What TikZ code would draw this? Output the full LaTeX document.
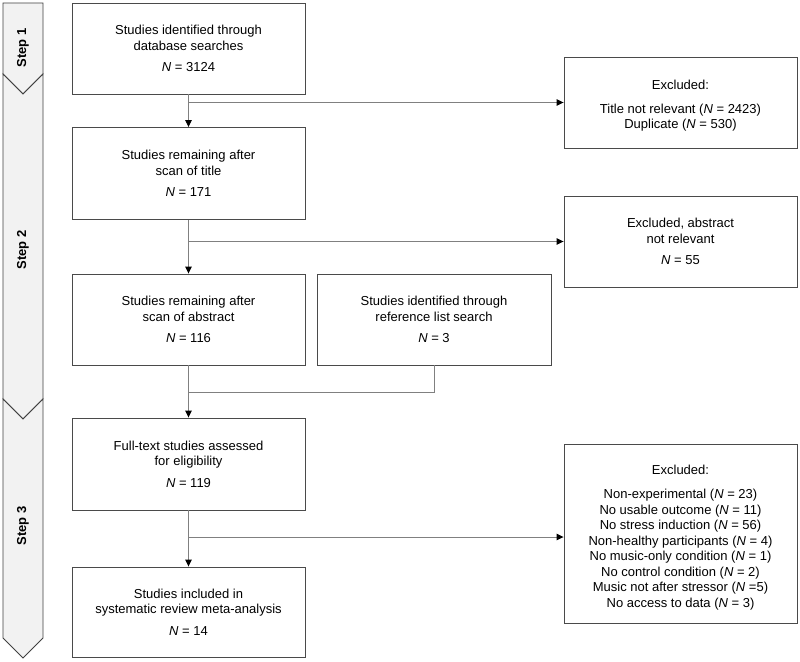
\documentclass[tikz,border=0pt]{standalone}
\usepackage{fontspec}
\setmainfont{Liberation Sans}
\usetikzlibrary{arrows.meta}
\definecolor{boxc}{HTML}{4A4A4A}
\definecolor{linec}{HTML}{808080}
\definecolor{stepfill}{HTML}{F2F2F2}
\definecolor{stepdraw}{HTML}{404040}
\begin{document}
\begin{tikzpicture}[x=1pt,y=-1pt,
  box/.style={draw=boxc, line width=0.9pt, minimum width=233pt, inner sep=0pt, align=center,
    font=\fontsize{13}{15.5}\selectfont},
  boxtext/.style={inner sep=0pt, align=center, font=\fontsize{13}{15.5}\selectfont},
  stepshape/.style={fill=stepfill, draw=stepdraw, line width=0.9pt, line join=miter},
  steplabel/.style={rotate=90, font=\fontsize{13}{15.5}\selectfont\bfseries},
  conn/.style={draw=linec, line width=0.9pt},
  arr/.style={conn, -{Triangle[length=7pt,width=6.5pt,color=black]}}
]
\useasboundingbox (0,0) rectangle (800,661);
% step chevrons
\draw[stepshape] (3,3) -- (43,3) -- (43,74) -- (23,94) -- (3,74) -- cycle;
\draw[stepshape] (3,74) -- (23,94) -- (43,74) -- (43,399) -- (23,419) -- (3,399) -- cycle;
\draw[stepshape] (3,399) -- (23,419) -- (43,399) -- (43,638) -- (23,658) -- (3,638) -- cycle;
\node[steplabel] (s1) at (23,48) {Step 1};
\node[steplabel] (s2) at (23,250) {Step 2};
\node[steplabel] (s3) at (23,526) {Step 3};
% main boxes
\node[box, minimum height=91pt] (b1) at (188.5,48.5) {Studies identified through\\database searches\\[6pt]\textit{N} = 3124};
\node[box, minimum height=92pt] (b2) at (188.5,173.5) {Studies remaining after\\scan of title\\[6pt]\textit{N} = 171};
\node[box, minimum height=91pt] (b3) at (188.5,319.5) {Studies remaining after\\scan of abstract\\[6pt]\textit{N} = 116};
\node[box, minimum height=91pt, minimum width=234pt] (ref) at (434,319.5) {Studies identified through\\reference list search\\[6pt]\textit{N} = 3};
\node[box, minimum height=92pt] (b4) at (188.5,464) {Full-text studies assessed\\for eligibility\\[6pt]\textit{N} = 119};
\node[box, minimum height=90pt] (b5) at (188.5,612) {Studies included in\\systematic review meta-analysis\\[6pt]\textit{N} = 14};
% excluded boxes
\node[box, minimum height=91pt] (e1) at (680.5,102.5) {};
\node[boxtext] (e1t) at ([yshift=-3pt]e1.center) {Excluded:\\[8.5pt]Title not relevant (\textit{N} = 2423)\\Duplicate (\textit{N} = 530)};
\node[box, minimum height=91pt] (e2) at (680.5,241.5) {Excluded, abstract\\not relevant\\[6pt]\textit{N} = 55};
\node[box, minimum height=179pt] (e3) at (680.5,533.5) {};
\node[boxtext] (e3t) at ([yshift=-4pt]e3.center) {Excluded:\\[8.5pt]Non-experimental (\textit{N} = 23)\\No usable outcome (\textit{N} = 11)\\No stress induction (\textit{N} = 56)\\Non-healthy participants (\textit{N} = 4)\\No music-only condition (\textit{N} = 1)\\No control condition (\textit{N} = 2)\\Music not after stressor (\textit{N} =5)\\No access to data (\textit{N} = 3)};
% connectors
\coordinate (j1) at (188.5,102.5);
\coordinate (j2) at (188.5,241.5);
\coordinate (j3) at (188.5,392);
\coordinate (j4) at (188.5,537);
\draw[arr] (b1.south) -- (b2.north);
\draw[arr] (j1) -- (e1.west);
\draw[arr] (b2.south) -- (b3.north);
\draw[arr] (j2) -- (e2.west);
\draw[conn] (ref.south) |- (j3);
\draw[arr] (b3.south) -- (b4.north);
\draw[arr] (b4.south) -- (b5.north);
\draw[arr] (j4) -- (e3.west |- j4);
\end{tikzpicture}
\end{document}
